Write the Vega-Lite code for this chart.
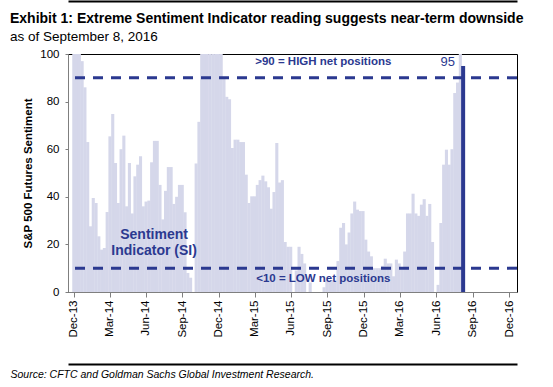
{
  "$schema": "https://vega.github.io/schema/vega-lite/v6.json",
  "width": 449,
  "height": 238,
  "autosize": {"type": "none"},
  "padding": {"left": 68, "top": 54, "right": 36, "bottom": 95},
  "background": "white",
  "config": {
    "font": "Liberation Sans",
    "view": {"stroke": "#000000", "strokeWidth": 1}
  },
  "title": {
    "text": "Exhibit 1: Extreme Sentiment Indicator reading suggests near-term downside",
    "subtitle": "as of September 8, 2016",
    "anchor": "start",
    "frame": "group",
    "dx": -58,
    "offset": -42,
    "font": "Liberation Sans",
    "fontSize": 14,
    "fontWeight": "bold",
    "color": "#000000",
    "subtitleFont": "Liberation Sans",
    "subtitleFontSize": 13.5,
    "subtitleColor": "#000000",
    "subtitlePadding": 4
  },
  "datasets": {
    "weekly": [
      {"date": "2013-12-31", "sentiment": 100},
      {"date": "2014-01-07", "sentiment": 100},
      {"date": "2014-01-14", "sentiment": 100},
      {"date": "2014-01-21", "sentiment": 97},
      {"date": "2014-01-28", "sentiment": 86},
      {"date": "2014-02-04", "sentiment": 63},
      {"date": "2014-02-11", "sentiment": 27.6},
      {"date": "2014-02-18", "sentiment": 39.5},
      {"date": "2014-02-25", "sentiment": 37.4},
      {"date": "2014-03-04", "sentiment": 23.4},
      {"date": "2014-03-11", "sentiment": 17.8},
      {"date": "2014-03-18", "sentiment": 18.5},
      {"date": "2014-03-25", "sentiment": 33.6},
      {"date": "2014-04-01", "sentiment": 65.4},
      {"date": "2014-04-08", "sentiment": 74.8},
      {"date": "2014-04-15", "sentiment": 54.2},
      {"date": "2014-04-22", "sentiment": 37.4},
      {"date": "2014-04-29", "sentiment": 60},
      {"date": "2014-05-06", "sentiment": 65.7},
      {"date": "2014-05-13", "sentiment": 36},
      {"date": "2014-05-20", "sentiment": 54.2},
      {"date": "2014-05-27", "sentiment": 33},
      {"date": "2014-06-03", "sentiment": 48.6},
      {"date": "2014-06-10", "sentiment": 53.5},
      {"date": "2014-06-17", "sentiment": 57},
      {"date": "2014-06-24", "sentiment": 36},
      {"date": "2014-07-01", "sentiment": 38},
      {"date": "2014-07-08", "sentiment": 38.4},
      {"date": "2014-07-15", "sentiment": 54.5},
      {"date": "2014-07-22", "sentiment": 63.5},
      {"date": "2014-07-29", "sentiment": 63.5},
      {"date": "2014-08-05", "sentiment": 45},
      {"date": "2014-08-12", "sentiment": 30.5},
      {"date": "2014-08-19", "sentiment": 42.5},
      {"date": "2014-08-26", "sentiment": 52.5},
      {"date": "2014-09-02", "sentiment": 52.5},
      {"date": "2014-09-09", "sentiment": 37},
      {"date": "2014-09-16", "sentiment": 40},
      {"date": "2014-09-23", "sentiment": 45},
      {"date": "2014-09-30", "sentiment": 45},
      {"date": "2014-10-07", "sentiment": 33.5},
      {"date": "2014-10-14", "sentiment": 8},
      {"date": "2014-10-21", "sentiment": 6},
      {"date": "2014-10-28", "sentiment": 0},
      {"date": "2014-11-04", "sentiment": 54},
      {"date": "2014-11-11", "sentiment": 71.5},
      {"date": "2014-11-18", "sentiment": 100},
      {"date": "2014-11-25", "sentiment": 100},
      {"date": "2014-12-02", "sentiment": 100},
      {"date": "2014-12-09", "sentiment": 100},
      {"date": "2014-12-16", "sentiment": 100},
      {"date": "2014-12-23", "sentiment": 100},
      {"date": "2014-12-30", "sentiment": 100},
      {"date": "2015-01-06", "sentiment": 100},
      {"date": "2015-01-13", "sentiment": 90},
      {"date": "2015-01-20", "sentiment": 82},
      {"date": "2015-01-27", "sentiment": 81},
      {"date": "2015-02-03", "sentiment": 60.5},
      {"date": "2015-02-10", "sentiment": 64},
      {"date": "2015-02-17", "sentiment": 64},
      {"date": "2015-02-24", "sentiment": 63},
      {"date": "2015-03-03", "sentiment": 63},
      {"date": "2015-03-10", "sentiment": 49.3},
      {"date": "2015-03-17", "sentiment": 37.4},
      {"date": "2015-03-24", "sentiment": 40.2},
      {"date": "2015-03-31", "sentiment": 40.2},
      {"date": "2015-04-07", "sentiment": 45},
      {"date": "2015-04-14", "sentiment": 47},
      {"date": "2015-04-21", "sentiment": 48.9},
      {"date": "2015-04-28", "sentiment": 46.5},
      {"date": "2015-05-05", "sentiment": 44},
      {"date": "2015-05-12", "sentiment": 35},
      {"date": "2015-05-19", "sentiment": 42},
      {"date": "2015-05-26", "sentiment": 62.6},
      {"date": "2015-06-02", "sentiment": 46},
      {"date": "2015-06-09", "sentiment": 47},
      {"date": "2015-06-16", "sentiment": 21},
      {"date": "2015-06-23", "sentiment": 19},
      {"date": "2015-06-30", "sentiment": 19},
      {"date": "2015-07-07", "sentiment": 0},
      {"date": "2015-07-14", "sentiment": 9},
      {"date": "2015-07-21", "sentiment": 19},
      {"date": "2015-07-28", "sentiment": 16},
      {"date": "2015-08-04", "sentiment": 12},
      {"date": "2015-08-11", "sentiment": 0},
      {"date": "2015-08-18", "sentiment": 4},
      {"date": "2015-08-25", "sentiment": 0},
      {"date": "2015-09-01", "sentiment": 0},
      {"date": "2015-09-08", "sentiment": 0},
      {"date": "2015-09-15", "sentiment": 0},
      {"date": "2015-09-22", "sentiment": 2},
      {"date": "2015-09-29", "sentiment": 5},
      {"date": "2015-10-06", "sentiment": 5},
      {"date": "2015-10-13", "sentiment": 5},
      {"date": "2015-10-20", "sentiment": 5},
      {"date": "2015-10-27", "sentiment": 13},
      {"date": "2015-11-03", "sentiment": 27},
      {"date": "2015-11-10", "sentiment": 29},
      {"date": "2015-11-17", "sentiment": 20},
      {"date": "2015-11-24", "sentiment": 25},
      {"date": "2015-12-01", "sentiment": 33},
      {"date": "2015-12-08", "sentiment": 38},
      {"date": "2015-12-15", "sentiment": 34.6},
      {"date": "2015-12-22", "sentiment": 34},
      {"date": "2015-12-29", "sentiment": 34},
      {"date": "2016-01-05", "sentiment": 22},
      {"date": "2016-01-12", "sentiment": 17},
      {"date": "2016-01-19", "sentiment": 15},
      {"date": "2016-01-26", "sentiment": 10},
      {"date": "2016-02-02", "sentiment": 10},
      {"date": "2016-02-09", "sentiment": 10},
      {"date": "2016-02-16", "sentiment": 11},
      {"date": "2016-02-23", "sentiment": 14},
      {"date": "2016-03-01", "sentiment": 12},
      {"date": "2016-03-08", "sentiment": 12},
      {"date": "2016-03-15", "sentiment": 6.6},
      {"date": "2016-03-22", "sentiment": 13.6},
      {"date": "2016-03-29", "sentiment": 12},
      {"date": "2016-04-05", "sentiment": 9.5},
      {"date": "2016-04-12", "sentiment": 17},
      {"date": "2016-04-19", "sentiment": 33},
      {"date": "2016-04-26", "sentiment": 33},
      {"date": "2016-05-03", "sentiment": 41.3},
      {"date": "2016-05-10", "sentiment": 33},
      {"date": "2016-05-17", "sentiment": 32},
      {"date": "2016-05-24", "sentiment": 36.7},
      {"date": "2016-05-31", "sentiment": 39},
      {"date": "2016-06-07", "sentiment": 32},
      {"date": "2016-06-14", "sentiment": 37},
      {"date": "2016-06-21", "sentiment": 21},
      {"date": "2016-06-28", "sentiment": 0},
      {"date": "2016-07-05", "sentiment": 3},
      {"date": "2016-07-12", "sentiment": 29},
      {"date": "2016-07-19", "sentiment": 53.5},
      {"date": "2016-07-26", "sentiment": 59.8},
      {"date": "2016-08-02", "sentiment": 53.5},
      {"date": "2016-08-09", "sentiment": 60},
      {"date": "2016-08-16", "sentiment": 83.6},
      {"date": "2016-08-23", "sentiment": 88},
      {"date": "2016-08-30", "sentiment": 100},
      {"date": "2016-09-06", "sentiment": 95}
    ],
    "latest": [
      {"date": "2016-09-06", "sentiment": 95}
    ],
    "thresholds": [
      {"level": 10},
      {"level": 90}
    ]
  },
  "layer": [
    {
      "data": {"name": "weekly"},
      "mark": {"type": "bar", "color": "#d5d7ea", "width": 3.1, "clip": true},
      "encoding": {
        "x": {
          "field": "date",
          "type": "temporal",
          "scale": {"domain": [{"year": 2013, "month": 12, "date": 29}, {"year": 2017, "month": 1, "date": 7}]},
          "axis": {
            "orient": "bottom",
            "values": [
              {"year": 2013, "month": 12, "date": 31},
              {"year": 2014, "month": 3, "date": 31},
              {"year": 2014, "month": 6, "date": 30},
              {"year": 2014, "month": 9, "date": 30},
              {"year": 2014, "month": 12, "date": 31},
              {"year": 2015, "month": 3, "date": 31},
              {"year": 2015, "month": 6, "date": 30},
              {"year": 2015, "month": 9, "date": 30},
              {"year": 2015, "month": 12, "date": 31},
              {"year": 2016, "month": 3, "date": 31},
              {"year": 2016, "month": 6, "date": 30},
              {"year": 2016, "month": 9, "date": 30},
              {"year": 2016, "month": 12, "date": 31}
            ],
            "format": "%b-%y",
            "labelAngle": -90,
            "labelFontSize": 11.5,
            "labelColor": "#000000",
            "labelPadding": 3,
            "labelOverlap": false,
            "labelFlush": false,
            "tickSize": 5,
            "tickColor": "#7f7f7f",
            "domainColor": "#7f7f7f",
            "grid": false,
            "title": "Source: CFTC and Goldman Sachs Global Investment Research.",
            "titleFontSize": 10.5,
            "titleFontStyle": "italic",
            "titleFontWeight": "normal",
            "titleColor": "#000000",
            "titleAnchor": "start",
            "titleAlign": "left",
            "titleBaseline": "alphabetic",
            "titleX": -58,
            "titleY": 85
          }
        },
        "y": {
          "field": "sentiment",
          "type": "quantitative",
          "scale": {"domain": [0, 100], "nice": false},
          "axis": {
            "values": [0, 20, 40, 60, 80, 100],
            "title": "S&P 500 Futures Sentiment",
            "titleFontSize": 11.5,
            "titleFontWeight": "bold",
            "titleColor": "#000000",
            "titlePadding": 6,
            "labelFontSize": 11.5,
            "labelColor": "#000000",
            "labelPadding": 6,
            "tickSize": 3,
            "tickColor": "#7f7f7f",
            "domainColor": "#7f7f7f",
            "grid": false
          }
        }
      }
    },
    {
      "data": {"name": "thresholds"},
      "mark": {"type": "rule", "color": "#2b3990", "strokeWidth": 3, "strokeDash": [10, 8]},
      "encoding": {
        "y": {"field": "level", "type": "quantitative"}
      }
    },
    {
      "data": {"name": "latest"},
      "mark": {"type": "bar", "color": "#2b3990", "width": 4},
      "encoding": {
        "x": {"field": "date", "type": "temporal", "axis": null},
        "y": {"field": "sentiment", "type": "quantitative"}
      }
    },
    {
      "data": {"values": [{}]},
      "mark": {"type": "text", "text": ">90 = HIGH net positions", "color": "#2b3990", "fontSize": 11.5, "fontWeight": "bold", "align": "center", "baseline": "middle"},
      "encoding": {
        "x": {"datum": {"year": 2015, "month": 9, "date": 20}, "type": "temporal",
          "axis": {"orient": "bottom", "offset": 72, "domainColor": "#000000", "domainWidth": 2, "labels": false, "ticks": false, "grid": false, "title": null}},
        "y": {"datum": 96.5, "type": "quantitative"}
      }
    },
    {
      "data": {"values": [{}]},
      "mark": {"type": "text", "text": "<10 = LOW net positions", "color": "#2b3990", "fontSize": 11.5, "fontWeight": "bold", "align": "center", "baseline": "middle"},
      "encoding": {
        "x": {"datum": {"year": 2015, "month": 9, "date": 20}, "type": "temporal",
          "axis": {"orient": "bottom", "offset": -291, "domainColor": "#000000", "domainWidth": 2, "labels": false, "ticks": false, "grid": false, "title": null}},
        "y": {"datum": 5.5, "type": "quantitative"}
      }
    },
    {
      "data": {"values": [{}]},
      "mark": {"type": "text", "text": "95", "color": "#2b3990", "fontSize": 13, "align": "center", "baseline": "middle"},
      "encoding": {
        "x": {"datum": {"year": 2016, "month": 7, "date": 29}, "type": "temporal", "axis": null},
        "y": {"datum": 96.5, "type": "quantitative"}
      }
    },
    {
      "data": {"values": [{}]},
      "mark": {"type": "text", "text": "Sentiment", "color": "#2b3990", "fontSize": 14, "fontWeight": "bold", "align": "center", "baseline": "middle"},
      "encoding": {
        "x": {"datum": {"year": 2014, "month": 7, "date": 21}, "type": "temporal", "axis": null},
        "y": {"datum": 23.9, "type": "quantitative"}
      }
    },
    {
      "data": {"values": [{}]},
      "mark": {"type": "text", "text": "Indicator (SI)", "color": "#2b3990", "fontSize": 14, "fontWeight": "bold", "align": "center", "baseline": "middle"},
      "encoding": {
        "x": {"datum": {"year": 2014, "month": 7, "date": 21}, "type": "temporal", "axis": null},
        "y": {"datum": 17.2, "type": "quantitative"}
      }
    }
  ],
  "resolve": {"axis": {"x": "independent"}}
}
